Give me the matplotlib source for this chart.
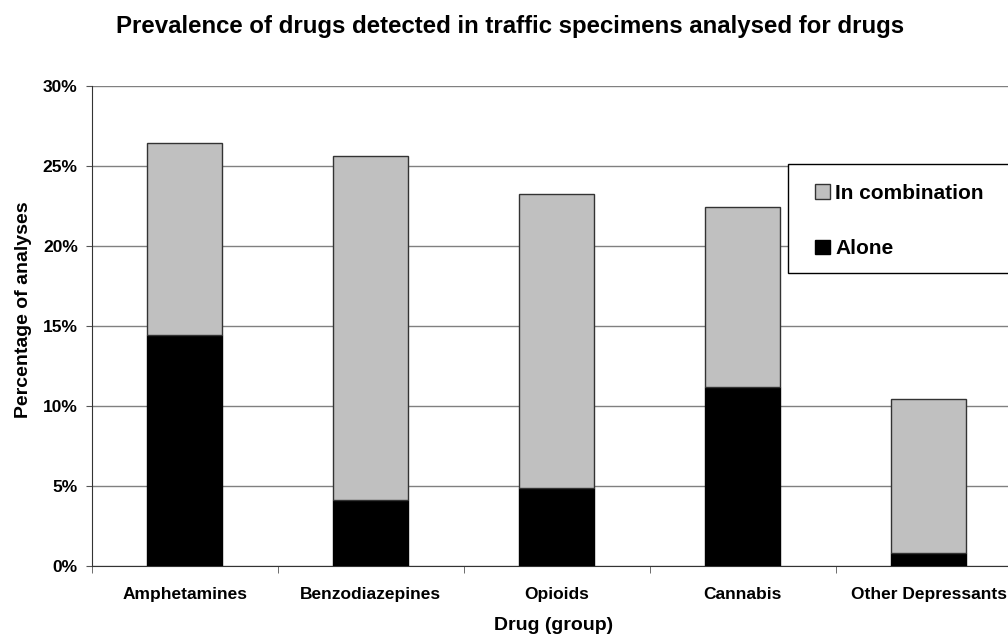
import numpy as np
import matplotlib
matplotlib.use('Agg')
import matplotlib.pyplot as plt
from matplotlib.patches import Rectangle
from matplotlib.ticker import MultipleLocator, FixedLocator, FuncFormatter

plt.rcParams['font.family'] = ['Liberation Sans', 'DejaVu Sans']

drugs = ['Amphetamines', 'Benzodiazepines', 'Opioids', 'Cannabis', 'Other Depressants']
alone = [14.4, 4.1, 4.9, 11.2, 0.8]
in_combination_top = [26.4, 25.6, 23.2, 22.4, 10.4]
in_combination = [t - a for t, a in zip(in_combination_top, alone)]

fig = plt.figure(figsize=(10.08, 6.37), dpi=100)
ax = fig.add_axes([91.7 / 1008, 71 / 637, 930 / 1008, 480.5 / 637])

x = np.arange(len(drugs))
width = 0.405
b_alone = ax.bar(x, alone, width, color='black', edgecolor='black', linewidth=1, zorder=3,
                 label='Alone')
b_comb = ax.bar(x, in_combination, width, bottom=alone, color='#c0c0c0', edgecolor='#333333',
                linewidth=1, zorder=3, label='In combination')

ax.set_xlim(-0.5, len(drugs) - 0.5)
ax.set_ylim(0, 30)
ax.yaxis.set_major_locator(MultipleLocator(5))
ax.yaxis.set_major_formatter(FuncFormatter(lambda v, p: '%d%%' % v))
ax.grid(axis='y', color='#808080', linewidth=1, zorder=0)
ax.set_axisbelow(True)

ax.set_xticks(x)
ax.set_xticklabels(drugs, fontweight='bold', fontsize=12.5)
ax.tick_params(axis='x', length=0, pad=15)
ax.xaxis.set_minor_locator(FixedLocator(np.arange(-0.5, len(drugs), 1.0)))
ax.tick_params(axis='x', which='minor', length=5, color='#555555')
ax.tick_params(axis='y', length=4, color='#555555', labelsize=12.5, pad=6)
for lab in ax.get_yticklabels():
    lab.set_fontweight('bold')

ax.spines['top'].set_visible(False)
ax.spines['right'].set_visible(False)
ax.spines['left'].set_color('#333333')
ax.spines['bottom'].set_color('#333333')

ax.set_ylabel('Percentage of analyses', fontweight='bold', fontsize=14)
ax.yaxis.set_label_coords(-0.064, 0.533)
ax.set_xlabel('Drug (group)', fontweight='bold', fontsize=14)
ax.xaxis.set_label_coords(0.497, -0.106)
fig.suptitle('Prevalence of drugs detected in traffic specimens analysed for drugs',
             fontweight='bold', fontsize=17.3, x=510 / 1008, y=1 - 27 / 637, va='center')

# legend frame runs off the right edge like the original
fig.patches.append(Rectangle((788 / 1008, (637 - 273) / 637), 240 / 1008, 109 / 637,
                             transform=fig.transFigure, facecolor='white', edgecolor='black',
                             linewidth=1, zorder=5))
leg = fig.legend([b_comb, b_alone], ['In combination', 'Alone'], loc='upper left',
                 bbox_to_anchor=(815 / 1008, 1 - 184 / 637), bbox_transform=fig.transFigure,
                 borderaxespad=0, borderpad=0, frameon=False,
                 prop={'weight': 'bold', 'size': 15}, labelspacing=1.74, handlelength=0.72,
                 handleheight=0.72, handletextpad=0.25)
leg.set_zorder(6)

fig.savefig('out.png', dpi=100)
